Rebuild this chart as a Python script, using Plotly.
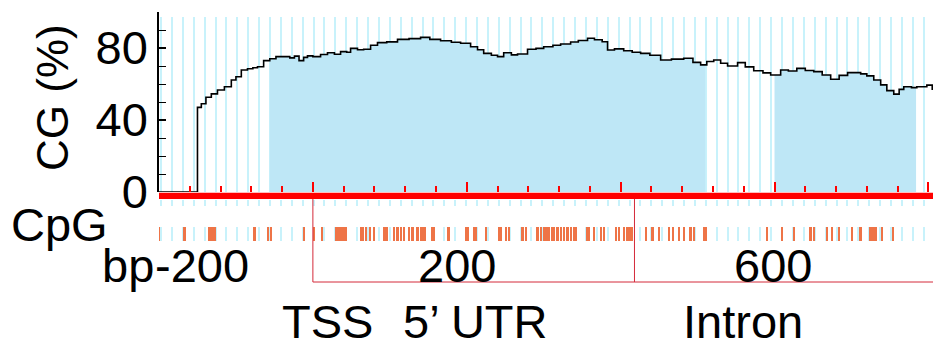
import plotly.graph_objects as go
import numpy as np

W, H = 945, 352          # browser window
OFF = 8                  # default page body margin
FW, FH = W - OFF, H - OFF  # figure size so it fits the window

# ---------------- data ----------------
cg_pos = [-200, -151, -150, -145, -139, -132, -124, -115, -106, -100, -93, -85, -78, -72,
          -64, -56, -48, -38, -30, -24, -18, -12, -7, 0, 10, 19, 28, 36, 44, 49, 58, 66,
          75, 84, 96, 110, 125, 140, 152, 166, 180, 192, 205, 214, 222, 232, 240, 248,
          258, 266, 279, 290, 300, 312, 322, 335, 345, 357, 366, 376, 383, 392, 404, 415,
          426, 438, 452, 466, 482, 494, 504, 512, 521, 530, 539, 552, 562, 573, 585, 595,
          608, 618, 629, 640, 651, 662, 673, 684, 695, 712, 720, 729, 738, 746, 755, 762,
          768, 778, 785, 798, 805]
cg_pct = [0, 0, 47, 49, 52.6, 54.5, 56.7, 58.5, 62.2, 64, 67.8, 68.5, 69, 69.6,
          73, 74, 75.2, 75.2, 74.5, 75.5, 73, 74.8, 75.6, 75.2, 76.4, 77.4, 76.5, 78, 77.6, 79.8, 79, 79.3,
          81.5, 83, 83.4, 84.8, 85.2, 85.9, 84.8, 84, 83.2, 82.6, 80.7, 79, 77, 76, 75.2, 77.4,
          76.2, 76.7, 79.3, 79.8, 80.7, 81.5, 82.2, 83.3, 84.2, 85.4, 84.6, 83.5, 78.9, 79.5, 78.5, 77.6,
          77, 76, 73.3, 73.8, 74.3, 72, 70.6, 72.5, 73.3, 71.5, 70, 71.9, 69.5, 67.4, 66.2, 65,
          67.8, 67.2, 68.7, 67.5, 66.9, 65, 62.6, 64.8, 66.3, 65.6, 64.5, 62.2, 59.5, 56.3, 54.4, 57,
          58.5, 58, 58.5, 59.4, 56.7]

island_starts = [-56, 600]
island_ends = [510, 784]

cpg_sites = [-200, -166.6, -134.2, -130.8, -127.7, -75.7, -58.4, -54.2,
             -10.8, 2.2, 12.1, 31.2, 33.8, 36.8, 39.9, 42.5, 62.7, 64.9, 69.2, 74.4, 80.1,
             93.1, 96.1, 106.1, 110.4, 114.7, 119.1, 125.6, 129.9, 136.4, 140.6, 142.9, 146.4,
             155.8, 158.1, 176.6, 199.1, 201.3, 210, 212.1, 225.1, 242.5, 244.5, 251, 255.5,
             272.7, 277, 292.2, 296.5, 300.9, 303.9, 307.4, 310.8, 313.9, 318.2, 322.5, 326.9,
             331.2, 335.5, 339.9, 341.9, 357.1, 359.4, 365.8, 374.4, 378.8, 393.9, 398.3, 404.8,
             409.1, 412.1, 414.7, 432.9, 441.6, 450.3, 463.2, 468.8, 476.2, 482.7, 491.3, 495.7,
             508.7, 510.8, 590.9, 610.4, 625.6, 647.1, 651.6, 668.8, 675.3, 684, 701.3, 712.1,
             725.1, 728.2, 731.6, 740.3, 754.2]

tss_pos = 0
intron_start = 418
x_min, x_max = -200, 806

x_tick_vals = [-200, 200, 600]
x_tick_text = ["-200", "200", "600"]
y_tick_vals = [0, 40, 80]

# ---------------- styles ----------------
FONT = "Liberation Sans, Arial, sans-serif"
FS = 47
STRIPE = "#c8f2fb"
FILL = "#bee7f6"
CPG = "#ee7447"
RED = "#ff0000"
BOX = "#d42a3a"

x0p, x1p = 159, 933          # plot left/right (window pixels)
ytop, ybot = 12, 192          # main plot top/bottom (window pixels)


def px(p):
    return (p - OFF) / FW


def py(p):
    return 1 - (p - OFF) / FH


stripe_x = np.arange(-197, x_max, 14.16)

fig = go.Figure()

fig.add_trace(go.Bar(x=stripe_x, y=[97] * len(stripe_x), base=0, width=1.9,
                     marker=dict(color=STRIPE, line=dict(width=0)),
                     xaxis="x", yaxis="y", hoverinfo="skip", showlegend=False))
fig.add_trace(go.Bar(x=stripe_x, y=[6] * len(stripe_x), base=200, width=1.9,
                     marker=dict(color=STRIPE, line=dict(width=0)),
                     xaxis="x", yaxis="y2", hoverinfo="skip", showlegend=False))
fig.add_trace(go.Bar(x=stripe_x, y=[14] * len(stripe_x), base=227, width=1.9,
                     marker=dict(color=STRIPE, line=dict(width=0)),
                     xaxis="x", yaxis="y2", hoverinfo="skip", showlegend=False))


def step_value(xq):
    v = cg_pct[0]
    for xx, yy in zip(cg_pos, cg_pct):
        if xx <= xq:
            v = yy
        else:
            break
    return v


for a, b in zip(island_starts, island_ends):
    xs = [a] + [x for x in cg_pos if a < x < b] + [b]
    ys = [step_value(a)] + [y for x, y in zip(cg_pos, cg_pct) if a < x < b] + [step_value(b)]
    fig.add_trace(go.Scatter(x=xs, y=ys, mode="lines", line=dict(width=0, shape="hv"),
                             fill="tozeroy", fillcolor=FILL, xaxis="x", yaxis="y",
                             hoverinfo="skip", showlegend=False))

fig.add_trace(go.Scatter(x=cg_pos, y=cg_pct, mode="lines",
                         line=dict(color="black", width=1.6, shape="hv"),
                         xaxis="x", yaxis="y", showlegend=False))

fig.add_trace(go.Bar(x=cpg_sites, y=[14] * len(cpg_sites), base=227, width=2.4,
                     marker=dict(color=CPG, line=dict(width=0)),
                     xaxis="x", yaxis="y2", showlegend=False))

shapes = [
    dict(type="rect", xref="x", yref="y2", x0=x_min - 1, x1=x_max, y0=192.8, y1=199,
         fillcolor=RED, line=dict(width=0), layer="above"),
    dict(type="line", xref="x", yref="y2", x0=tss_pos, x1=tss_pos, y0=199, y1=282,
         line=dict(color=BOX, width=1)),
    dict(type="line", xref="x", yref="y2", x0=intron_start, x1=intron_start, y0=199, y1=282,
         line=dict(color=BOX, width=1)),
    dict(type="line", xref="x", yref="y2", x0=tss_pos, x1=x_max, y0=282, y1=282,
         line=dict(color=BOX, width=1)),
]

ann_font = dict(family=FONT, size=FS, color="black")
label_shift = [43, -10, -2]
annotations = [
    dict(text="CG (%)", xref="paper", yref="paper", x=px(52), y=py(98), textangle=-90,
         showarrow=False, font=dict(family=FONT, size=44, color="black"),
         xanchor="center", yanchor="middle"),
    dict(text="CpG", xref="paper", yref="paper", x=px(59), y=py(224), showarrow=False,
         font=ann_font, xanchor="center", yanchor="middle"),
    dict(text="bp", xref="paper", yref="paper", x=px(100), y=py(265), showarrow=False,
         font=ann_font, xanchor="left", yanchor="middle"),
    dict(text="TSS", xref="paper", yref="paper", x=px(327), y=py(321), showarrow=False,
         font=ann_font, xanchor="center", yanchor="middle"),
    dict(text="5’ UTR", xref="paper", yref="paper", x=px(475), y=py(321), showarrow=False,
         font=ann_font, xanchor="center", yanchor="middle"),
    dict(text="Intron", xref="paper", yref="paper", x=px(743), y=py(321), showarrow=False,
         font=ann_font, xanchor="center", yanchor="middle"),
]
for v, t, s in zip(x_tick_vals, x_tick_text, label_shift):
    annotations.append(dict(text=t, xref="x", yref="paper", x=v, y=py(265), xshift=s,
                            showarrow=False, font=ann_font, xanchor="center", yanchor="middle"))

fig.update_layout(
    template="none",
    width=FW, height=FH,
    margin=dict(l=0, r=0, t=0, b=0, pad=0, autoexpand=False),
    paper_bgcolor="white", plot_bgcolor="white",
    barmode="overlay", bargap=0,
    showlegend=False,
    xaxis=dict(domain=[px(x0p), px(x1p)], range=[x_min, x_max], anchor="y",
               automargin=False,
               showgrid=False, zeroline=False, showline=False,
               ticks="inside", tickmode="linear", tick0=0, dtick=200,
               ticklen=10, tickwidth=2, tickcolor=RED, showticklabels=False,
               minor=dict(ticks="inside", dtick=40, tick0=0, ticklen=6, tickwidth=2,
                          tickcolor=RED, showgrid=False)),
    yaxis=dict(domain=[py(ybot), py(ytop)], range=[0, 100], anchor="x",
               automargin=False,
               showgrid=False, zeroline=False, showline=True, linecolor="black",
               linewidth=1.5, ticks="inside", tickvals=y_tick_vals, ticklen=7,
               tickwidth=1.5, tickcolor="black",
               tickfont=dict(family=FONT, size=FS, color="black"),
               minor=dict(ticks="inside", dtick=10, tick0=0, ticklen=7, tickwidth=1.2,
                          tickcolor="black", showgrid=False)),
    yaxis2=dict(domain=[0, py(ybot)], range=[H, ybot], anchor="x", visible=False,
                automargin=False, showgrid=False, zeroline=False),
    shapes=shapes,
    annotations=annotations,
)

fig.write_html("out.html")
